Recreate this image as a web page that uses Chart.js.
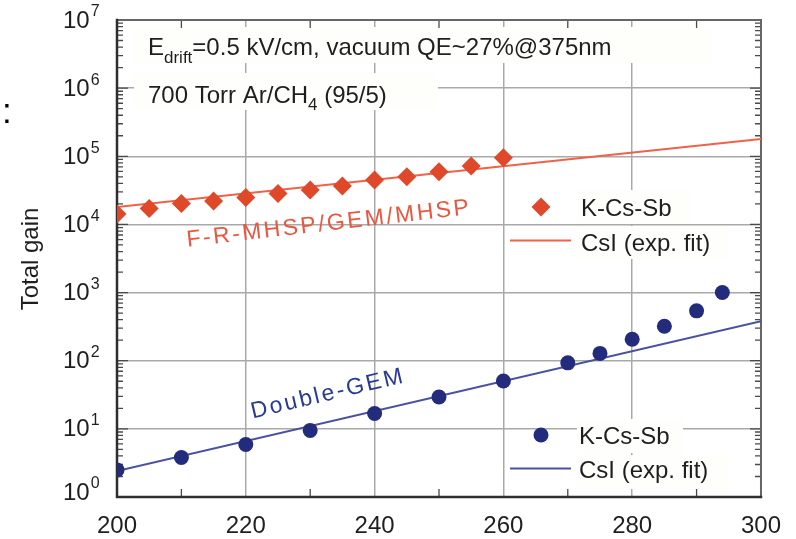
<!DOCTYPE html>
<html>
<head>
<meta charset="utf-8">
<script src="https://cdn.jsdelivr.net/npm/chart.js@4.4.1/dist/chart.umd.min.js"></script>
<style>
  html, body { margin: 0; padding: 0; background: #fff; }
  #wrap { width: 796px; height: 539px; position: relative; }
</style>
</head>
<body>
<div id="wrap"><canvas id="gainChart"></canvas></div>
<script>
// F-R-MHSP/GEM/MHSP, K-Cs-Sb photocathode
const mhspVoltage = [200, 205, 210, 215, 220, 225, 230, 235, 240, 245, 250, 255, 260];
const mhspGain = [14200, 17200, 20300, 22000, 24900, 28500, 31900, 36500, 44700, 50000, 59300, 71900, 95000];
// CsI exponential fit (end points)
const mhspFitVoltage = [200, 300];
const mhspFitGain = [18000, 180000];

// Double-GEM, K-Cs-Sb photocathode
const gemVoltage = [200, 210, 220, 230, 240, 250, 260, 270, 275, 280, 285, 290, 294];
const gemGain = [2.5, 3.8, 5.9, 9.5, 16.8, 29.4, 50.5, 93, 128, 207, 321, 539, 1000];
const gemFitVoltage = [200, 300];
const gemFitGain = [2.4, 380];

const xMinorTicks = [210, 230, 250, 270, 290];
const yDecades = [0, 1, 2, 3, 4, 5, 6, 7];

const FONT = "'Liberation Sans', Arial, Helvetica, sans-serif";
const RED = '#e0482a';
const RED_LINE = '#ef6248';
const BLUE = '#232c7c';
const BLUE_LINE = '#4b51a0';
const TEXT = '#1f1f1f';
const BOX = '#fefefa';

function toPoints(xs, ys) {
  return xs.map((v, i) => ({ x: v, y: ys[i] }));
}

// text with sub/superscripts: parts = [text, size, dy]
function drawRich(ctx, parts, x, y) {
  parts.forEach(([t, size, dy]) => {
    ctx.font = `${size}px ${FONT}`;
    ctx.fillText(t, x, y + dy);
    x += ctx.measureText(t).width;
  });
}

function fillBox(ctx, x, y, w, h) {
  ctx.fillStyle = BOX;
  ctx.fillRect(x, y, w, h);
}

const framePlugin = {
  id: 'frame',
  beforeDatasetsDraw(chart) {
    const { ctx, chartArea: a, scales: { x, y } } = chart;
    ctx.save();

    // label backgrounds cover the grid
    fillBox(ctx, 134, 27, 578, 36);
    fillBox(ctx, 134, 73, 304, 37);
    fillBox(ctx, 577, 190, 113, 34);
    fillBox(ctx, 577, 226, 151, 33);
    fillBox(ctx, 577, 419, 106, 34);
    fillBox(ctx, 577, 455, 151, 34);

    // log minor ticks on both sides
    ctx.strokeStyle = '#4a4a4a';
    ctx.lineWidth = 1.3;
    ctx.beginPath();
    yDecades.forEach(e => {
      const py = y.getPixelForValue(Math.pow(10, e));
      ctx.moveTo(a.left, py); ctx.lineTo(a.left + 11, py);
      ctx.moveTo(a.right, py); ctx.lineTo(a.right - 11, py);
      if (e < 7) {
        for (let m = 2; m < 10; m++) {
          const pm = y.getPixelForValue(m * Math.pow(10, e));
          ctx.moveTo(a.left, pm); ctx.lineTo(a.left + 6, pm);
          ctx.moveTo(a.right, pm); ctx.lineTo(a.right - 6, pm);
        }
      }
    });
    xMinorTicks.forEach(v => {
      const px = x.getPixelForValue(v);
      ctx.moveTo(px, a.bottom); ctx.lineTo(px, a.bottom - 8);
      ctx.moveTo(px, a.top); ctx.lineTo(px, a.top + 8);
    });
    ctx.stroke();

    // box around the plot
    ctx.lineCap = 'square';
    ctx.strokeStyle = '#666';
    ctx.lineWidth = 2;
    ctx.beginPath();
    ctx.moveTo(a.left, a.top); ctx.lineTo(a.right, a.top); ctx.lineTo(a.right, a.bottom);
    ctx.stroke();
    ctx.strokeStyle = '#2e2e2e';
    ctx.lineWidth = 2.5;
    ctx.beginPath();
    ctx.moveTo(a.left, a.top); ctx.lineTo(a.left, a.bottom); ctx.lineTo(a.right, a.bottom);
    ctx.stroke();
    ctx.restore();
  },
  afterDraw(chart) {
    const { ctx, scales: { y } } = chart;
    ctx.save();
    ctx.fillStyle = TEXT;
    ctx.textBaseline = 'middle';

    // y tick labels 10^n
    yDecades.forEach(e => {
      const py = y.getPixelForValue(Math.pow(10, e)) + (e === 0 ? -4 : 1);
      ctx.font = `24px ${FONT}`;
      ctx.fillText('10', 63, py);
      const w = ctx.measureText('10').width;
      ctx.font = `16px ${FONT}`;
      ctx.fillText(String(e), 63 + w + 1, py - 9);
    });

    // y axis title
    ctx.save();
    ctx.translate(31, 259);
    ctx.rotate(-Math.PI / 2);
    ctx.textAlign = 'center';
    ctx.font = `24px ${FONT}`;
    ctx.fillText('Total gain', 0, 0);
    ctx.restore();

    // stray colon at the left margin
    ctx.textBaseline = 'alphabetic';
    ctx.font = `35px ${FONT}`;
    ctx.fillStyle = '#000';
    ctx.fillText(':', 2, 123);

    // conditions
    ctx.fillStyle = TEXT;
    drawRich(ctx, [['E', 24, 0], ['drift', 17, 8], ['=0.5 kV/cm, vacuum QE~27%@375nm', 24, 0]], 148, 55);
    drawRich(ctx, [['700 Torr Ar/CH', 24, 0], ['4', 17, 7], [' (95/5)', 24, 0]], 148, 103);

    // legends
    ctx.textBaseline = 'middle';
    ctx.font = `24px ${FONT}`;
    ctx.fillText('K-Cs-Sb', 581, 209);
    ctx.fillText('CsI (exp. fit)', 581, 244);
    ctx.fillText('K-Cs-Sb', 579, 437);
    ctx.fillText('CsI (exp. fit)', 579, 471);

    ctx.fillStyle = RED;
    ctx.beginPath();
    ctx.moveTo(541, 197.5); ctx.lineTo(550.5, 207); ctx.lineTo(541, 216.5); ctx.lineTo(531.5, 207);
    ctx.closePath();
    ctx.fill();
    ctx.strokeStyle = RED_LINE;
    ctx.lineWidth = 2;
    ctx.beginPath();
    ctx.moveTo(510, 240.5); ctx.lineTo(571, 240.5);
    ctx.stroke();

    ctx.fillStyle = BLUE;
    ctx.beginPath();
    ctx.arc(541, 435, 7.5, 0, Math.PI * 2);
    ctx.fill();
    ctx.strokeStyle = BLUE_LINE;
    ctx.beginPath();
    ctx.moveTo(510, 468.5); ctx.lineTo(571, 468.5);
    ctx.stroke();

    // detector names along the curves
    ctx.textAlign = 'center';
    ctx.letterSpacing = '2.5px';
    ctx.font = `23px ${FONT}`;
    ctx.save();
    ctx.translate(329, 224);
    ctx.rotate(-0.115);
    ctx.fillStyle = '#e9573f';
    ctx.fillText('F-R-MHSP/GEM/MHSP', 0, 0);
    ctx.restore();
    ctx.save();
    ctx.translate(328, 394);
    ctx.rotate(-0.234);
    ctx.fillStyle = '#2a3a94';
    ctx.fillText('Double-GEM', 0, 0);
    ctx.restore();

    ctx.restore();
  }
};

const config = {
  type: 'scatter',
  data: {
    datasets: [
      {
        label: 'CsI (exp. fit)',
        data: toPoints(mhspFitVoltage, mhspFitGain),
        showLine: true,
        borderColor: RED_LINE,
        borderWidth: 2,
        pointRadius: 0,
        order: 3
      },
      {
        label: 'K-Cs-Sb',
        data: toPoints(mhspVoltage, mhspGain),
        backgroundColor: RED,
        borderColor: RED,
        borderWidth: 0,
        pointStyle: 'rectRot',
        pointRadius: 9.5,
        order: 1
      },
      {
        label: 'CsI (exp. fit)',
        data: toPoints(gemFitVoltage, gemFitGain),
        showLine: true,
        borderColor: BLUE_LINE,
        borderWidth: 2,
        pointRadius: 0,
        order: 4
      },
      {
        label: 'K-Cs-Sb',
        data: toPoints(gemVoltage, gemGain),
        backgroundColor: BLUE,
        borderColor: BLUE,
        borderWidth: 0,
        pointStyle: 'circle',
        pointRadius: 7.5,
        order: 2
      }
    ]
  },
  options: {
    responsive: true,
    maintainAspectRatio: false,
    animation: false,
    layout: { padding: { left: 0, top: 20, right: 32, bottom: 0 } },
    plugins: {
      legend: { display: false },
      tooltip: { enabled: false }
    },
    scales: {
      x: {
        type: 'linear',
        min: 200,
        max: 300,
        border: { display: false },
        grid: { color: '#a9a9a9', lineWidth: 1.5, drawTicks: false },
        ticks: {
          stepSize: 20,
          padding: 15,
          color: TEXT,
          font: { family: FONT, size: 24 }
        },
        afterFit(scale) { scale.height = 42; }
      },
      y: {
        type: 'logarithmic',
        min: 1,
        max: 1e7,
        border: { display: false },
        grid: { color: '#a9a9a9', lineWidth: 1.5, drawTicks: false },
        ticks: { display: false },
        afterBuildTicks(scale) {
          scale.ticks = yDecades.map(e => ({ value: Math.pow(10, e) }));
        },
        afterFit(scale) { scale.width = 117; }
      }
    }
  },
  plugins: [framePlugin]
};

new Chart(document.getElementById('gainChart').getContext('2d'), config);
</script>
</body>
</html>
